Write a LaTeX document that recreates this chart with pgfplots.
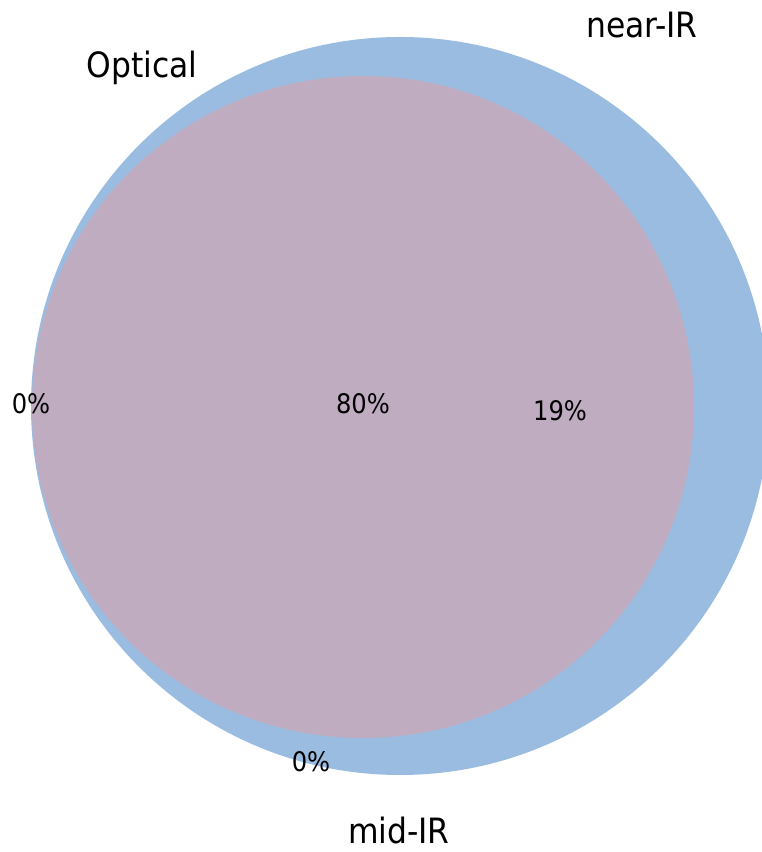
\documentclass[border=0pt]{standalone}
\usepackage{pgfplots}
\pgfplotsset{compat=1.18}
\usepackage{fontspec}
\setmainfont{DejaVu Sans Condensed}
\definecolor{nearir}{RGB}{155,188,225}
\definecolor{inter}{RGB}{191,172,192}
\begin{document}
\begin{tikzpicture}
\begin{axis}[
  width=762bp, height=852bp, scale only axis,
  xmin=0, xmax=762, ymin=0, ymax=852,
  axis lines=none, ticks=none,
  clip=true,
]
% near-IR circle
\fill[nearir] (axis cs:400,446) circle[radius=369];
% optical / mid-IR circles (nearly coincident)
\fill[inter] (axis cs:363,445) circle[radius=331];
% set labels
\node[anchor=base, inner sep=0pt, font=\fontsize{35}{40}\selectfont] at (axis cs:142,774) {Optical};
\node[anchor=base, inner sep=0pt, font=\fontsize{35}{40}\selectfont] at (axis cs:642,814) {near-IR};
\node[anchor=base, inner sep=0pt, font=\fontsize{35}{40}\selectfont] at (axis cs:399,9) {mid-IR};
% region labels
\node[anchor=base, inner sep=0pt, font=\fontsize{27}{30}\selectfont] at (axis cs:31,438) {0\%};
\node[anchor=base, inner sep=0pt, font=\fontsize{27}{30}\selectfont] at (axis cs:363,438) {80\%};
\node[anchor=base, inner sep=0pt, font=\fontsize{27}{30}\selectfont] at (axis cs:560,431) {19\%};
\node[anchor=base, inner sep=0pt, font=\fontsize{27}{30}\selectfont] at (axis cs:311,80) {0\%};
\end{axis}
\pgfresetboundingbox
\path (current axis.south west) rectangle (current axis.north east);
\end{tikzpicture}
\end{document}
